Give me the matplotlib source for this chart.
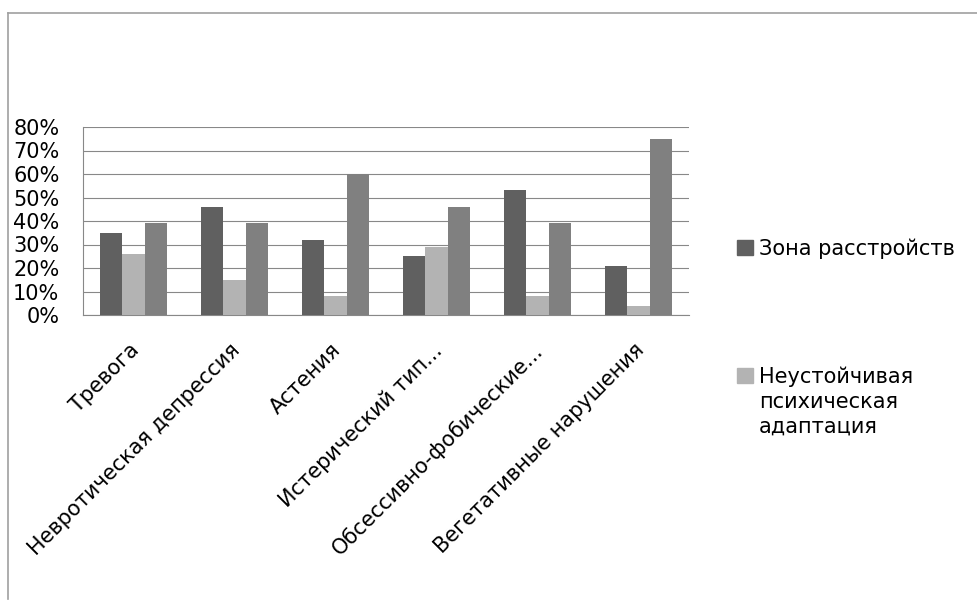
import matplotlib.pyplot as plt
import numpy as np
from matplotlib.lines import Line2D
from matplotlib.patches import Rectangle
from matplotlib.transforms import ScaledTranslation

# data (percent)
categories = ['Тревога', 'Невротическая депрессия', 'Астения', 'Истерический тип...',
              'Обсессивно-фобические...', 'Вегетативные нарушения']
zona = [35, 46, 32, 25, 53, 21]
neust = [26, 15, 8, 29, 8, 4]
third = [39, 39, 60, 46, 39, 75]
series_names = ['Зона расстройств', 'Неустойчивая\nпсихическая\nадаптация']
yticks = [0, 10, 20, 30, 40, 50, 60, 70, 80]

colors = ['#606060', '#b3b3b3', '#808080']

plt.rcParams['font.family'] = ['DejaVu Sans']
W, H = 977, 609
fig = plt.figure(figsize=(W / 100, H / 100), dpi=100)
ax = fig.add_axes([83 / W, (H - 315) / H, (689 - 83) / W, (315 - 127) / H])

x = np.arange(len(categories))
w = 1 / 4.5
for i, (vals, c) in enumerate(zip([zona, neust, third], colors)):
    ax.bar(x + (i - 1) * w, vals, w, color=c, zorder=3)

ax.set_xlim(-0.5, len(categories) - 0.5)
ax.set_ylim(0, 80)
ax.set_yticks(yticks)
ax.set_yticklabels([f'{v}%' for v in yticks], fontsize=15)
ax.yaxis.grid(True, color='#888888', linewidth=0.8, zorder=0)
ax.tick_params(axis='y', length=0, pad=17)
for lab in ax.get_yticklabels():
    lab.set_verticalalignment('center_baseline')

ax.set_xticks(x)
ax.set_xticklabels(categories, fontsize=15, rotation=45, ha='right', va='top',
                   rotation_mode='anchor')
ax.tick_params(axis='x', length=0, pad=18)
shift = ScaledTranslation(-5 / 100, 0, fig.dpi_scale_trans)
for lab in ax.get_xticklabels():
    lab.set_transform(lab.get_transform() + shift)

for s in ['top', 'right']:
    ax.spines[s].set_visible(False)
for s in ['left', 'bottom']:
    ax.spines[s].set_color('#888888')
    ax.spines[s].set_linewidth(0.8)

# legend (only two entries visible)
leg_y = [255, 383]
for name, c, yb in zip(series_names, colors[:2], leg_y):
    fig.patches.append(Rectangle((737 / W, (H - yb) / H), 16 / W, 15 / H,
                                 transform=fig.transFigure, color=c))
    for k, line in enumerate(name.split('\n')):
        fig.text(759 / W, (H - yb - 25 * k) / H, line, fontsize=15,
                 va='baseline', ha='left')

# chart border
fig.add_artist(Line2D([8 / W, 1], [(H - 13) / H] * 2, color='#a0a0a0', linewidth=1.2))
fig.add_artist(Line2D([8 / W] * 2, [(H - 13) / H, 10 / H], color='#a0a0a0', linewidth=1.2))

fig.savefig('out.png', dpi=100)
